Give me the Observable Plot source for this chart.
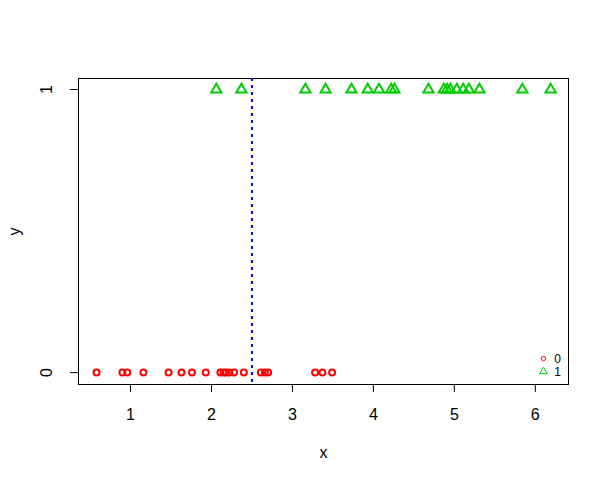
<!DOCTYPE html>
<html><head><meta charset="utf-8">
<script src="https://cdn.jsdelivr.net/npm/d3@7"></script>
<script src="https://cdn.jsdelivr.net/npm/@observablehq/plot@0.6"></script>
<style>body{margin:0;background:#fff;} svg{font-family:"Liberation Sans",Arial,sans-serif;}</style>
</head><body><div id="chart"></div>
<script>
const x0 = [0.58,0.90,0.96,1.16,1.47,1.63,1.76,1.93,2.11,2.15,2.18,2.22,2.28,2.40,2.61,2.66,2.70,3.28,3.37,3.49];
const x1 = [2.06,2.37,3.16,3.41,3.73,3.93,4.07,4.22,4.26,4.68,4.87,4.91,4.95,5.03,5.11,5.18,5.31,5.84,6.19];
const cutoff = [2.5];
const xTicks = [1,2,3,4,5,6];
const yTicks = [0,1];
const legendLabels = ["0","1"];

const data = [
  ...x0.map(x => ({x, y: 0})),
  ...x1.map(x => ({x, y: 1}))
];

const chart = Plot.plot({
  width: 609, height: 482,
  marginLeft: 78, marginRight: 41, marginTop: 78, marginBottom: 98,
  style: {fontSize: "16px", fontFamily: "Liberation Sans, Arial, sans-serif", color: "#000"},
  x: {domain: [0.358, 6.41]},
  y: {domain: [-0.042, 1.039]},
  marks: [
    Plot.frame({stroke: "#000", strokeWidth: 1}),
    Plot.axisX({ticks: xTicks, tickFormat: "d", tickSize: 8, tickPadding: 16, label: "x", labelAnchor: "center", labelOffset: 73, labelArrow: "none", fontSize: 16}),
    Plot.axisY({ticks: yTicks, tickFormat: "d", tickSize: 8, tickRotate: -90, tickPadding: 19, label: "y", labelAnchor: "center", labelOffset: 70, labelArrow: "none", fontSize: 16}),
    Plot.ruleX(cutoff, {stroke: "#0000FF", strokeWidth: 2, strokeDasharray: "3,4"}),
    Plot.dot(data.filter(d => d.y === 0), {x: "x", y: "y", symbol: "circle", r: 3, stroke: "#FF0000", strokeWidth: 2, fill: "none"}),
    Plot.dot(data.filter(d => d.y === 1), {x: "x", y: "y", symbol: "triangle", r: 3.8, stroke: "#00CD00", strokeWidth: 2, fill: "none"}),
    // legend
    Plot.dot([legendLabels[0]], {frameAnchor: "bottom-right", dx: -25, dy: -26, symbol: "circle", r: 2.2, stroke: "#FF0000", strokeWidth: 1, fill: "none"}),
    Plot.dot([legendLabels[1]], {frameAnchor: "bottom-right", dx: -25, dy: -13, symbol: "triangle", r: 2.8, stroke: "#00CD00", strokeWidth: 1, fill: "none"}),
    Plot.text([legendLabels[0]], {frameAnchor: "bottom-right", dx: -11, dy: -25, text: d => d, textAnchor: "middle", lineAnchor: "middle", fontSize: 12, fill: "#000"}),
    Plot.text([legendLabels[1]], {frameAnchor: "bottom-right", dx: -11, dy: -12, text: d => d, textAnchor: "middle", lineAnchor: "middle", fontSize: 12, fill: "#000"})
  ]
});
document.getElementById("chart").appendChild(chart);
</script></body></html>
